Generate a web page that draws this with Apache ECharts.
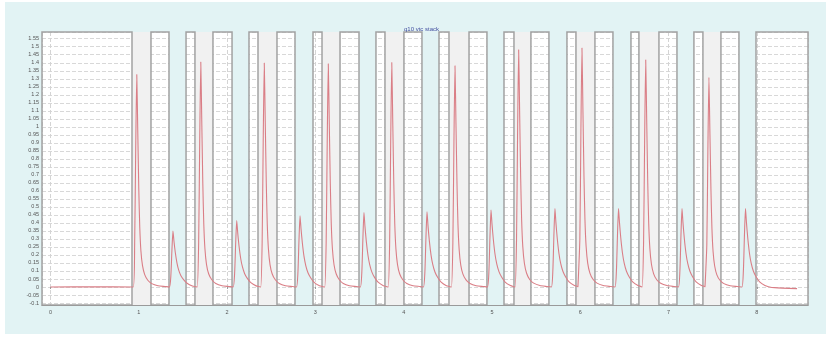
<!DOCTYPE html>
<html>
<head>
<meta charset="utf-8">
<script src="https://cdn.jsdelivr.net/npm/echarts@6/dist/echarts.min.js"></script>
<style>
  html, body { margin: 0; padding: 0; background: #ffffff; }
  #wrap { position: relative; width: 831px; height: 339px; }
  #panel { position: absolute; left: 5px; top: 2px; width: 821px; height: 332px; background: #e2f3f4; }
  #chart { position: absolute; left: 0; top: 0; width: 831px; height: 339px; }
</style>
</head>
<body>
<div id="wrap"><div id="panel"></div><div id="chart"></div></div>
<script>
// Axis extents (seconds on x, signal on y)
const xRange = [-0.0963, 8.579];
const yRange = [-0.1124, 1.592];

// Recording windows (white, framed) and the gaps between them
const whiteBoxes = [
  [-0.0963, 0.923], [1.138, 1.342], [1.535, 1.636], [1.840, 2.056], [2.248, 2.350],
  [2.565, 2.769], [2.973, 3.075], [3.279, 3.494], [3.686, 3.788], [4.003, 4.207],
  [4.400, 4.513], [4.740, 4.943], [5.136, 5.249], [5.441, 5.645], [5.849, 5.951],
  [6.166, 6.370], [6.574, 6.664], [6.891, 7.095], [7.287, 7.389], [7.593, 7.797],
  [7.990, 8.579]
];
const grayBands = [
  [0.923, 1.138], [1.636, 1.840], [2.350, 2.565], [3.075, 3.279], [3.788, 4.003],
  [4.513, 4.740], [5.249, 5.441], [5.951, 6.166], [6.664, 6.891], [7.389, 7.593]
];
const cyanBands = [
  [1.342, 1.535], [2.056, 2.248], [2.769, 2.973], [3.494, 3.686], [4.207, 4.400],
  [4.943, 5.136], [5.645, 5.849], [6.370, 6.574], [7.095, 7.287], [7.797, 7.990]
];

// Trace segments
const leadIn = [[0, 0], [0.5, 0.001], [0.937, 0]];
const bigPeaks = [
  [[0.937,0],[0.953,0.265],[0.965,0.862],[0.977,1.326],[0.988,0.981],[1.000,0.610],[1.011,0.371],[1.024,0.225],[1.042,0.133],[1.067,0.077],[1.102,0.042],[1.147,0.021],[1.217,0.008],[1.297,0.003]],
  [[1.662,0],[1.678,0.281],[1.690,0.913],[1.702,1.404],[1.713,1.039],[1.725,0.646],[1.736,0.393],[1.749,0.239],[1.767,0.140],[1.792,0.081],[1.827,0.045],[1.872,0.022],[1.942,0.008],[2.022,0.003]],
  [[2.381,0],[2.397,0.280],[2.409,0.909],[2.421,1.398],[2.432,1.035],[2.444,0.643],[2.455,0.391],[2.468,0.238],[2.486,0.140],[2.511,0.081],[2.546,0.045],[2.591,0.022],[2.661,0.008],[2.741,0.003]],
  [[3.106,0],[3.122,0.279],[3.134,0.906],[3.146,1.394],[3.157,1.032],[3.169,0.641],[3.180,0.390],[3.193,0.237],[3.211,0.139],[3.236,0.081],[3.271,0.045],[3.316,0.022],[3.386,0.008],[3.466,0.003]],
  [[3.825,0],[3.841,0.280],[3.853,0.911],[3.865,1.402],[3.876,1.037],[3.888,0.645],[3.899,0.393],[3.912,0.238],[3.930,0.140],[3.955,0.081],[3.990,0.045],[4.035,0.022],[4.105,0.008],[4.185,0.003]],
  [[4.541,0],[4.557,0.276],[4.569,0.898],[4.581,1.381],[4.592,1.022],[4.604,0.635],[4.615,0.387],[4.628,0.235],[4.646,0.138],[4.671,0.080],[4.706,0.044],[4.751,0.022],[4.821,0.008],[4.901,0.003]],
  [[5.262,0],[5.278,0.296],[5.290,0.963],[5.302,1.481],[5.313,1.096],[5.325,0.681],[5.336,0.415],[5.349,0.252],[5.367,0.148],[5.392,0.086],[5.427,0.047],[5.472,0.024],[5.542,0.009],[5.622,0.003]],
  [[5.979,0],[5.995,0.298],[6.007,0.970],[6.019,1.492],[6.030,1.104],[6.042,0.686],[6.053,0.418],[6.066,0.254],[6.084,0.149],[6.109,0.087],[6.144,0.048],[6.189,0.024],[6.259,0.009],[6.339,0.003]],
  [[6.701,0],[6.717,0.284],[6.729,0.922],[6.741,1.418],[6.752,1.049],[6.764,0.652],[6.775,0.397],[6.788,0.241],[6.806,0.142],[6.831,0.082],[6.866,0.045],[6.911,0.023],[6.981,0.009],[7.061,0.003]],
  [[7.417,0],[7.433,0.262],[7.445,0.850],[7.457,1.308],[7.468,0.968],[7.480,0.602],[7.491,0.366],[7.504,0.222],[7.522,0.131],[7.547,0.076],[7.582,0.042],[7.627,0.021],[7.697,0.008],[7.777,0.003]]
];
const smallPeaks = [
  [[1.347,0],[1.363,0.070],[1.375,0.228],[1.387,0.350],[1.398,0.287],[1.413,0.217],[1.432,0.151],[1.452,0.105],[1.477,0.070],[1.507,0.046],[1.547,0.023],[1.607,0.006],[1.647,0.002]],
  [[2.069,0],[2.085,0.083],[2.097,0.270],[2.109,0.415],[2.120,0.340],[2.135,0.257],[2.154,0.178],[2.174,0.125],[2.199,0.083],[2.229,0.054],[2.269,0.027],[2.329,0.007],[2.369,0.002]],
  [[2.786,0],[2.802,0.089],[2.814,0.289],[2.826,0.445],[2.837,0.365],[2.852,0.276],[2.871,0.191],[2.891,0.134],[2.916,0.089],[2.946,0.058],[2.986,0.029],[3.046,0.008],[3.086,0.002]],
  [[3.510,0],[3.526,0.093],[3.538,0.302],[3.550,0.465],[3.561,0.381],[3.576,0.288],[3.595,0.200],[3.615,0.140],[3.640,0.093],[3.670,0.060],[3.710,0.030],[3.770,0.008],[3.810,0.002]],
  [[4.224,0],[4.240,0.094],[4.252,0.306],[4.264,0.470],[4.275,0.385],[4.290,0.291],[4.309,0.202],[4.329,0.141],[4.354,0.094],[4.384,0.061],[4.424,0.031],[4.484,0.008],[4.524,0.002]],
  [[4.949,0],[4.965,0.096],[4.977,0.312],[4.989,0.480],[5.000,0.394],[5.015,0.298],[5.034,0.206],[5.054,0.144],[5.079,0.096],[5.109,0.062],[5.149,0.031],[5.209,0.009],[5.249,0.002]],
  [[5.673,0],[5.689,0.098],[5.701,0.319],[5.713,0.490],[5.724,0.402],[5.739,0.304],[5.758,0.211],[5.778,0.147],[5.803,0.098],[5.833,0.064],[5.873,0.032],[5.933,0.009],[5.973,0.002]],
  [[6.393,0],[6.409,0.098],[6.421,0.319],[6.433,0.490],[6.444,0.402],[6.459,0.304],[6.478,0.211],[6.498,0.147],[6.523,0.098],[6.553,0.064],[6.593,0.032],[6.653,0.009],[6.693,0.002]],
  [[7.112,0],[7.128,0.098],[7.140,0.319],[7.152,0.490],[7.163,0.402],[7.178,0.304],[7.197,0.211],[7.217,0.147],[7.242,0.098],[7.272,0.064],[7.312,0.032],[7.372,0.009],[7.412,0.002]],
  [[7.831,0],[7.847,0.098],[7.859,0.319],[7.871,0.490],[7.882,0.402],[7.897,0.304],[7.916,0.211],[7.936,0.147],[7.961,0.098],[7.991,0.064],[8.031,0.032],[8.091,0.009],[8.131,0.002]]
];
const tailOut = [[8.2, -0.004], [8.455, -0.01]];

const CYAN = '#e2f3f4';
const GRAY = '#f1f1f1';
const FRAME = '#a2a2a2';
const FONT = 'Liberation Sans, Arial, sans-serif';

// Assemble the trace in time order
let trace = leadIn.slice();
for (let i = 0; i < bigPeaks.length; i++) {
  trace = trace.concat(bigPeaks[i], smallPeaks[i]);
}
trace = trace.concat(tailOut).sort((a, b) => a[0] - b[0]);

const bandAreas = grayBands.map(b => [{ xAxis: b[0], itemStyle: { color: GRAY } }, { xAxis: b[1] }])
  .concat(cyanBands.map(b => [{ xAxis: b[0], itemStyle: { color: CYAN } }, { xAxis: b[1] }]));
const boxAreas = whiteBoxes.map(b => [{ xAxis: b[0] }, { xAxis: b[1] }]);

const chart = echarts.init(document.getElementById('chart'), null, { renderer: 'canvas' });
chart.setOption({
  animation: false,
  backgroundColor: 'transparent',
  title: {
    text: 'q10 vtc stack',
    left: 399,
    top: 21,
    textStyle: { fontSize: 6, color: '#4450a0', fontWeight: 'normal', fontFamily: FONT }
  },
  grid: {
    left: 42, right: 23, top: 32, bottom: 34,
    show: true, backgroundColor: '#ffffff', borderWidth: 0
  },
  xAxis: [
    {
      type: 'value',
      min: xRange[0], max: xRange[1],
      splitNumber: 9, minInterval: 1, maxInterval: 1,
      axisLine: { show: false },
      axisTick: { show: true, length: 2, lineStyle: { color: '#9a9a9a' } },
      axisLabel: { showMinLabel: false, showMaxLabel: false, fontSize: 5.5, color: '#555', margin: 4, fontFamily: FONT },
      splitLine: { show: true, lineStyle: { color: '#d4d4d4', type: [4, 2], width: 1 } }
    },
    {
      // baseline running under every band
      type: 'value', position: 'bottom', z: 6,
      min: xRange[0], max: xRange[1],
      axisLine: { show: true, lineStyle: { color: '#9a9a9a', width: 1 } },
      axisTick: { show: false }, axisLabel: { show: false }, splitLine: { show: false }
    }
  ],
  yAxis: {
    type: 'value',
    min: yRange[0], max: yRange[1],
    splitNumber: 34, minInterval: 0.05, maxInterval: 0.05,
    axisLine: { show: false },
    axisTick: { show: false },
    axisLabel: { showMinLabel: false, showMaxLabel: false, fontSize: 5.5, color: '#555', margin: 3, fontFamily: FONT },
    splitLine: { show: true, lineStyle: { color: '#d8d8d8', type: [4, 2], width: 1 } }
  },
  series: [
    {
      type: 'line', data: [], z: 1, silent: true,
      markArea: { silent: true, label: { show: false }, data: bandAreas }
    },
    {
      type: 'line', data: [], z: 2, silent: true,
      markArea: {
        silent: true, label: { show: false },
        itemStyle: { color: 'rgba(255,255,255,0)', borderColor: FRAME, borderWidth: 1.5 },
        data: boxAreas
      }
    },
    {
      type: 'line', data: trace, z: 5,
      symbol: 'none', showSymbol: false, smooth: 0.2,
      lineStyle: { color: '#da7e86', width: 1.1 }
    }
  ]
});
</script>
</body>
</html>
